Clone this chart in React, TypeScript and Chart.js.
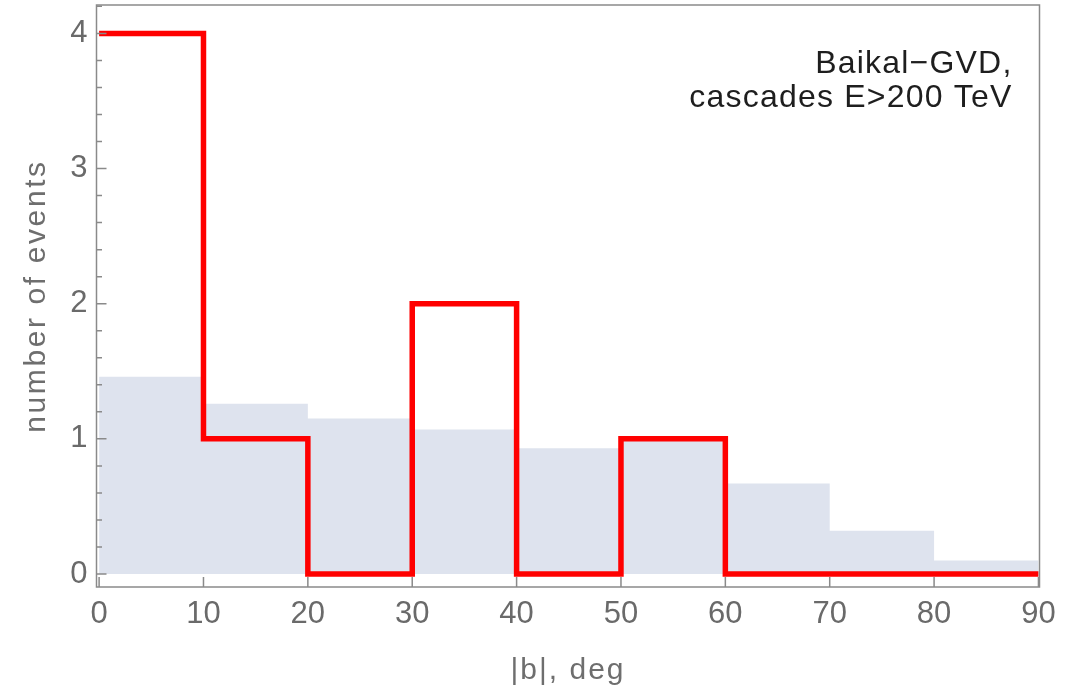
import React, { useEffect, useRef } from 'react';
import { Chart, registerables } from 'chart.js';

Chart.register(...registerables);

// ---- data ----
const binEdges = [0, 10, 20, 30, 40, 50, 60, 70, 80, 90];
const expectedCounts = [1.46, 1.26, 1.15, 1.07, 0.93, 0.99, 0.67, 0.32, 0.1];
const observedCounts = [4, 1, 0, 2, 0, 1, 0, 0, 0];
const xTickValues = [0, 10, 20, 30, 40, 50, 60, 70, 80, 90];
const yTickValues = [0, 1, 2, 3, 4];
const yMinorTickValues = [
  0.2, 0.4, 0.6, 0.8, 1.2, 1.4, 1.6, 1.8, 2.2, 2.4, 2.6, 2.8, 3.2, 3.4, 3.6, 3.8, 4.2,
];
const annotationLines = ['Baikal\u2212GVD,', 'cascades E>200 TeV'];
const xTitle = '|b|, deg';
const yTitle = 'number of events';

const FONT = '"Liberation Sans", Arial, Helvetica, sans-serif';

function stepPoints(edges: number[], values: number[]) {
  const pts = values.map((v, i) => ({ x: edges[i], y: v }));
  pts.push({ x: edges[edges.length - 1], y: values[values.length - 1] });
  return pts;
}

const framePlugin = {
  id: 'mmaFrame',
  afterDatasetsDraw(chart: any) {
    const { ctx, chartArea } = chart;
    const { left, right, top, bottom } = chartArea;
    const xs = chart.scales.x;
    const ys = chart.scales.y;
    ctx.save();
    ctx.strokeStyle = '#8a8a8a';
    ctx.lineWidth = 1.5;
    ctx.strokeRect(left, top, right - left, bottom - top);
    ctx.beginPath();
    yTickValues.forEach((v) => {
      const py = ys.getPixelForValue(v);
      ctx.moveTo(left, py);
      ctx.lineTo(left + 10, py);
    });
    yMinorTickValues.forEach((v) => {
      const py = ys.getPixelForValue(v);
      ctx.moveTo(left, py);
      ctx.lineTo(left + 5.5, py);
    });
    xTickValues.forEach((v) => {
      const px = xs.getPixelForValue(v);
      ctx.moveTo(px, bottom);
      ctx.lineTo(px, bottom - 10);
    });
    ctx.stroke();

    // annotation
    ctx.fillStyle = '#1e1e1e';
    ctx.font = `32px ${FONT}`;
    ctx.textAlign = 'right';
    ctx.textBaseline = 'alphabetic';
    (ctx as any).letterSpacing = '1.2px';
    ctx.fillText(annotationLines[0], right - 27, top + 68);
    ctx.fillText(annotationLines[1], right - 27, top + 102);

    // axis titles
    ctx.fillStyle = '#6e6e6e';
    ctx.font = `30px ${FONT}`;
    ctx.textAlign = 'center';
    (ctx as any).letterSpacing = '2px';
    ctx.fillText(xTitle, (left + right) / 2, bottom + 92);

    (ctx as any).letterSpacing = '2.6px';
    ctx.translate(left - 51.5, (top + bottom) / 2);
    ctx.rotate(-Math.PI / 2);
    ctx.fillText(yTitle, 0, 0);
    ctx.restore();
  },
};

export default function App() {
  const canvasRef = useRef<HTMLCanvasElement | null>(null);

  useEffect(() => {
    if (!canvasRef.current) return;
    const chart = new Chart(canvasRef.current, {
      type: 'line',
      data: {
        datasets: [
          {
            label: 'observed',
            data: stepPoints(binEdges, observedCounts),
            stepped: true,
            borderColor: '#ff0000',
            borderWidth: 5.5,
            borderJoinStyle: 'miter',
            borderCapStyle: 'butt',
            pointRadius: 0,
            fill: false,
            order: 0,
          },
          {
            label: 'expected',
            data: stepPoints(binEdges, expectedCounts),
            stepped: true,
            borderWidth: 0,
            borderColor: 'rgba(0,0,0,0)',
            backgroundColor: 'rgb(222,227,238)',
            pointRadius: 0,
            fill: 'origin',
            order: 1,
          },
        ],
      },
      options: {
        animation: false,
        responsive: true,
        maintainAspectRatio: false,
        layout: { padding: { top: 5, right: 31.5, left: 0, bottom: 0 } },
        plugins: {
          legend: { display: false },
          tooltip: { enabled: false },
        },
        scales: {
          x: {
            type: 'linear',
            min: -0.25,
            max: 90.1,
            grid: { display: false, drawTicks: false },
            border: { display: false },
            afterBuildTicks: (scale: any) => {
              scale.ticks = xTickValues.map((v) => ({ value: v }));
            },
            afterFit: (scale: any) => {
              scale.height = 106;
              scale.paddingLeft = 0;
              scale.paddingRight = 0;
            },
            ticks: {
              autoSkip: false,
              maxRotation: 0,
              padding: 9,
              color: '#6a6a6a',
              font: { family: FONT, size: 31 },
            },
          },
          y: {
            type: 'linear',
            min: -0.096,
            max: 4.21,
            grid: { display: false, drawTicks: false },
            border: { display: false },
            afterBuildTicks: (scale: any) => {
              scale.ticks = yTickValues.map((v) => ({ value: v }));
            },
            afterFit: (scale: any) => {
              scale.width = 96.5;
              scale.paddingTop = 0;
              scale.paddingBottom = 0;
            },
            ticks: {
              autoSkip: false,
              padding: 9,
              color: '#6a6a6a',
              font: { family: FONT, size: 31 },
            },
          },
        },
      },
      plugins: [framePlugin],
    } as any);
    return () => chart.destroy();
  }, []);

  return (
    <div style={{ position: 'fixed', left: 0, top: 0, width: 1071, height: 693, background: '#fff' }}>
      <canvas ref={canvasRef} />
    </div>
  );
}
